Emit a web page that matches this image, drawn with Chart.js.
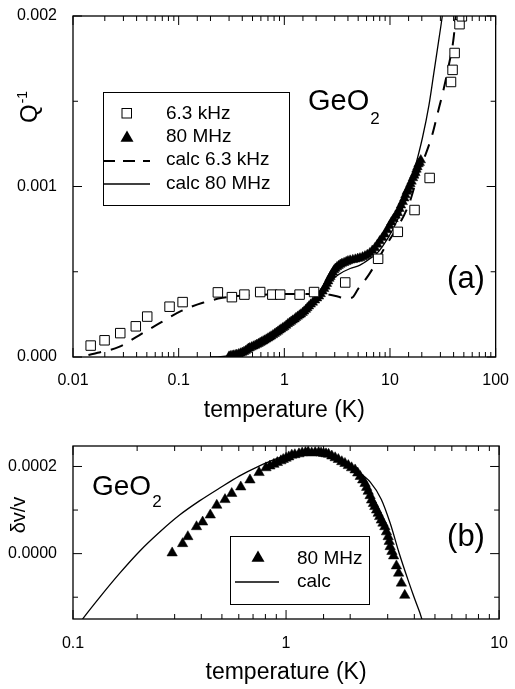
<!DOCTYPE html>
<html>
<head>
<meta charset="utf-8">
<title>GeO2 - Q^-1 and dv/v vs temperature</title>
<script src="https://cdn.jsdelivr.net/npm/chart.js@4.4.1/dist/chart.umd.min.js"></script>
<style>
  html, body { margin: 0; padding: 0; background: #fff; }
  #wrap { position: relative; width: 515px; height: 689px; }
  canvas { position: absolute; left: 0; display: block; }
  #chartA { top: 0; }
  #chartB { top: 430px; }
</style>
</head>
<body>
<div id="wrap">
  <canvas id="chartA" width="515" height="430"></canvas>
  <canvas id="chartB" width="515" height="259"></canvas>
</div>
<script>
const FONT = "'Liberation Sans', Arial, sans-serif";

// (a) internal friction, 6.3 kHz squares
const tempKHz = [0.0147, 0.0199, 0.028, 0.0393, 0.0504, 0.082, 0.109, 0.235, 0.319, 0.419, 0.591, 0.77, 0.914,
  1.395, 1.912, 3.77, 7.72, 11.86, 17.08, 23.73, 37.8, 39.1, 40.9, 45.5, 47.9];
const qKHz = [0.000067, 0.000098, 0.00014, 0.00018, 0.000237, 0.000295, 0.000322, 0.000379, 0.000351, 0.000366,
  0.000381, 0.000366, 0.000366, 0.000366, 0.000381, 0.000437, 0.000576, 0.000734, 0.000862, 0.00105,
  0.001613, 0.001684, 0.001783, 0.001952, 0.001998];

// (a) 80 MHz triangles (dense band)
const tempMHz = [0.30, 0.31, 0.32, 0.33, 0.343, 0.355, 0.37, 0.385, 0.40, 0.415,
  0.43, 0.445, 0.457, 0.47, 0.49, 0.51, 0.53, 0.55, 0.57, 0.59,
  0.608, 0.63, 0.65, 0.675, 0.70, 0.725, 0.75, 0.78, 0.81, 0.84,
  0.87, 0.90, 0.93, 0.965, 1.0, 1.04, 1.078, 1.12, 1.16, 1.2,
  1.25, 1.29, 1.34, 1.39, 1.435, 1.49, 1.54, 1.6, 1.65, 1.71,
  1.778, 1.86, 1.95, 2.04, 2.129, 2.21, 2.3, 2.38, 2.453, 2.53,
  2.6, 2.67, 2.731, 2.8, 2.88, 2.96, 3.041, 3.15, 3.26, 3.38,
  3.512, 3.68, 3.85, 4.0, 4.196, 4.45, 4.7, 4.95, 5.201, 5.5,
  5.8, 6.1, 6.448, 6.8, 7.2, 7.6, 7.99, 8.45, 8.9, 9.4,
  9.9, 10.3, 10.8, 11.3, 11.86, 12.3, 12.7, 13.2, 13.67, 14.0,
  14.4, 14.8, 15.22, 15.6, 16.0, 16.5, 16.94, 17.4, 17.8, 18.2,
  18.62, 19.1, 19.56];
const qMHz = [0.000004, 0.000006, 0.000008, 0.00001, 0.000012, 0.000014, 0.000018, 0.000022, 0.000026, 0.000031,
  0.000036, 0.000043, 0.00005, 0.000053, 0.000058, 0.000063, 0.000068, 0.000073, 0.000078, 0.000083,
  0.000088, 0.000093, 0.000098, 0.000104, 0.00011, 0.000116, 0.000122, 0.000129, 0.000136, 0.000143,
  0.00015, 0.000157, 0.000163, 0.00017, 0.000176, 0.000185, 0.000194, 0.000201, 0.000208, 0.000215,
  0.000222, 0.00023, 0.000238, 0.000245, 0.000251, 0.00026, 0.000268, 0.000278, 0.000288, 0.000298,
  0.000309, 0.00032, 0.000333, 0.000345, 0.000356, 0.00037, 0.000385, 0.0004, 0.000414, 0.00043,
  0.000445, 0.00046, 0.000471, 0.000484, 0.000497, 0.00051, 0.000519, 0.000528, 0.000535, 0.000542,
  0.000548, 0.000553, 0.000558, 0.000563, 0.000567, 0.00057, 0.000573, 0.000577, 0.00058, 0.000586,
  0.000592, 0.0006, 0.00061, 0.000625, 0.00064, 0.00066, 0.00068, 0.0007, 0.00072, 0.000745,
  0.00077, 0.00079, 0.00081, 0.00083, 0.000845, 0.00087, 0.00089, 0.00091, 0.000931, 0.00095,
  0.00097, 0.00098, 0.000998, 0.001015, 0.00103, 0.00105, 0.001065, 0.00108, 0.0011, 0.001115,
  0.001132, 0.00114, 0.001155];

// (a) calculated curves
const tempCalcKHz = [0.014, 0.0171, 0.02725, 0.04187, 0.068, 0.106, 0.169, 0.26, 0.4, 0.7, 1.0, 1.5, 2.0, 2.7,
  3.2, 3.7, 4.35, 5.0, 6.27, 8.6, 15.22, 18.86, 21.78, 25.16, 28.0, 32.26, 35.9, 40.0, 42.0];
const qCalcKHz = [0.000012, 0.000025, 0.000059, 0.000126, 0.000203, 0.00027, 0.000318, 0.000347, 0.00036,
  0.000367, 0.00037, 0.00037, 0.000368, 0.000365, 0.000355, 0.000345, 0.000348, 0.0004, 0.00048, 0.000625,
  0.000902, 0.001094, 0.00119, 0.001305, 0.00142, 0.001573, 0.001707, 0.00187, 0.00201];
const tempCalcMHz = [0.2, 0.25, 0.3, 0.35, 0.45, 0.6, 0.8, 1.08, 1.43, 1.78, 2.13, 2.45, 2.73, 3.39, 4.2, 5.2,
  6.45, 7.44, 8.6, 10.65, 13.67, 16.94, 20.29, 23.38, 26.03, 28.97, 31.17, 33.0];
const qCalcMHz = [0, 0.000002, 0.000008, 0.00002, 0.000048, 0.000085, 0.000133, 0.00019, 0.00025, 0.000305,
  0.00035, 0.0004, 0.000443, 0.00049, 0.000519, 0.000539, 0.000576, 0.000605, 0.000653, 0.000749, 0.000902,
  0.001094, 0.001286, 0.001477, 0.001668, 0.00186, 0.001994, 0.00212];

// (b) sound velocity, 80 MHz triangles
const tempDv = [0.292, 0.327, 0.346, 0.38, 0.406, 0.441, 0.473, 0.517, 0.556, 0.613,
  0.677, 0.747, 0.805, 0.84, 0.877, 0.91, 0.946, 0.97, 1.0, 1.03,
  1.064, 1.1, 1.15, 1.19, 1.233, 1.27, 1.32, 1.37, 1.422, 1.46,
  1.5, 1.54, 1.583, 1.64, 1.7, 1.76, 1.826, 1.89, 1.96, 2.03,
  2.109, 2.17, 2.23, 2.29, 2.348, 2.39, 2.43, 2.48, 2.52, 2.57,
  2.61, 2.66, 2.707, 2.75, 2.8, 2.85, 2.909, 2.96, 3.015, 3.05,
  3.08, 3.14, 3.198, 3.296, 3.375, 3.478, 3.607];
const dv = [0.0000016, 0.0000229, 0.0000389, 0.0000618, 0.0000725, 0.0000886, 0.000111, 0.000124, 0.000138, 0.000153,
  0.000169, 0.000186, 0.000197, 0.000201, 0.000205, 0.000209, 0.000213, 0.000216, 0.000219, 0.000222,
  0.000226, 0.000227, 0.000229, 0.000231, 0.000232, 0.000233, 0.000231, 0.000232, 0.000232, 0.000231,
  0.00023, 0.000229, 0.000228, 0.000224, 0.00022, 0.000216, 0.000211, 0.000207, 0.000202, 0.000197,
  0.000192, 0.000185, 0.000177, 0.000169, 0.000161, 0.000152, 0.000143, 0.000133, 0.000123, 0.000115,
  0.000108, 0.0001, 0.0000924, 0.000085, 0.000077, 0.00007, 0.0000618, 0.00005, 0.0000389, 0.000028,
  0.000016, 0.000005, -0.0000053, -0.0000281, -0.0000449, -0.0000677, -0.0000957];

// (b) calculated curve
const tempDvCalc = [0.1, 0.1113, 0.134, 0.1662, 0.206, 0.2553, 0.3164, 0.3923, 0.4861, 0.6026, 0.7467, 0.8933,
  1.031, 1.372, 1.64, 2.185, 2.485, 2.797, 3.08, 3.393, 3.736, 4.03, 4.344, 4.45];
const dvCalc = [-0.00018, -0.000149, -0.0000991, -0.0000442, 0.0000062, 0.0000497, 0.0000886, 0.000121, 0.00015,
  0.000178, 0.000201, 0.000217, 0.000226, 0.000228, 0.000221, 0.000187, 0.000164, 0.000125, 0.0000703,
  0.0000016, -0.0000602, -0.000106, -0.000151, -0.000175];

// labelled ticks
const xLabelsA = [0.01, 0.1, 1, 10, 100];
const yLabelsA = [0, 0.001, 0.002];
const xLabelsB = [0.1, 1, 10];
const yLabelsB = [0, 0.0002];

const zip = (xs, ys) => xs.map((x, i) => ({ x: x, y: ys[i] }));
const inList = (list, v) => list.some(m => Math.abs(v - m) <= Math.abs(m) * 1e-6 + 1e-12);

Chart.defaults.font.family = FONT;
Chart.defaults.color = '#000';

// box round the plot with inward ticks on all four sides
function frame(majorX, majorY) {
  return {
    id: 'frame',
    afterDatasetsDraw(chart) {
      const { ctx, chartArea: a } = chart;
      const x = chart.scales.x, y = chart.scales.y;
      ctx.save();
      ctx.strokeStyle = '#000';
      ctx.lineWidth = 1;
      ctx.beginPath();
      x.ticks.forEach(t => {
        const px = x.getPixelForValue(t.value);
        const len = inList(majorX, t.value) ? 9 : 5;
        ctx.moveTo(px, a.bottom); ctx.lineTo(px, a.bottom - len);
        ctx.moveTo(px, a.top); ctx.lineTo(px, a.top + len);
      });
      y.ticks.forEach(t => {
        const py = y.getPixelForValue(t.value);
        const len = inList(majorY, t.value) ? 9 : 5;
        ctx.moveTo(a.left, py); ctx.lineTo(a.left + len, py);
        ctx.moveTo(a.right, py); ctx.lineTo(a.right - len, py);
      });
      ctx.stroke();
      ctx.lineWidth = 1.3;
      ctx.strokeRect(a.left, a.top, a.right - a.left, a.bottom - a.top);
      ctx.restore();
    }
  };
}

function triangle(ctx, cx, cy, r) {
  ctx.beginPath();
  ctx.moveTo(cx, cy - r);
  ctx.lineTo(cx + 0.866 * r, cy + 0.5 * r);
  ctx.lineTo(cx - 0.866 * r, cy + 0.5 * r);
  ctx.closePath();
  ctx.fill();
}

function formula(ctx, text, sub, x, y, size, subSize, drop) {
  ctx.font = size + 'px ' + FONT;
  ctx.fillText(text, x, y);
  const w = ctx.measureText(text).width;
  ctx.font = subSize + 'px ' + FONT;
  ctx.fillText(sub, x + w + 1, y + drop);
}

const notesA = {
  id: 'notesA',
  afterDraw(chart) {
    const ctx = chart.ctx;
    ctx.save();
    ctx.fillStyle = '#000';
    ctx.strokeStyle = '#000';
    ctx.textAlign = 'left';
    ctx.textBaseline = 'alphabetic';

    // y title Q^-1
    ctx.save();
    ctx.translate(37, 123);
    ctx.rotate(-Math.PI / 2);
    formula(ctx, 'Q', '-1', 0, 0, 24, 14, -10);
    ctx.restore();

    formula(ctx, 'GeO', '2', 308, 110, 29, 17, 14);

    ctx.font = '31px ' + FONT;
    ctx.textAlign = 'center';
    ctx.textBaseline = 'middle';
    ctx.fillText('(a)', 466, 279);

    // legend
    ctx.lineWidth = 1;
    ctx.strokeRect(103.5, 92.5, 186, 113);
    ctx.strokeRect(122, 108.5, 9.5, 9.5);
    triangle(ctx, 127, 138, 7.5);
    ctx.lineWidth = 2;
    ctx.setLineDash([12, 8]);
    ctx.beginPath(); ctx.moveTo(103, 161); ctx.lineTo(150, 161); ctx.stroke();
    ctx.setLineDash([]);
    ctx.lineWidth = 1.3;
    ctx.beginPath(); ctx.moveTo(103, 184); ctx.lineTo(150, 184); ctx.stroke();
    ctx.font = '19px ' + FONT;
    ctx.textAlign = 'left';
    ctx.fillText('6.3 kHz', 166, 114);
    ctx.fillText('80 MHz', 166, 137);
    ctx.fillText('calc 6.3 kHz', 166, 160);
    ctx.fillText('calc 80 MHz', 166, 184);
    ctx.restore();
  }
};

const notesB = {
  id: 'notesB',
  afterDraw(chart) {
    const ctx = chart.ctx;
    ctx.save();
    ctx.fillStyle = '#000';
    ctx.strokeStyle = '#000';

    ctx.save();
    ctx.translate(19, 85);
    ctx.rotate(-Math.PI / 2);
    ctx.font = '20px ' + FONT;
    ctx.textAlign = 'center';
    ctx.textBaseline = 'middle';
    ctx.fillText('\u03b4v/v', 0, 0);
    ctx.restore();

    ctx.textAlign = 'left';
    ctx.textBaseline = 'alphabetic';
    formula(ctx, 'GeO', '2', 92, 65, 28, 17, 12);

    ctx.font = '31px ' + FONT;
    ctx.textAlign = 'center';
    ctx.textBaseline = 'middle';
    ctx.fillText('(b)', 466, 107);

    ctx.lineWidth = 1;
    ctx.strokeRect(230.5, 106.5, 139, 68);
    triangle(ctx, 258, 128, 7.5);
    ctx.lineWidth = 1.3;
    ctx.beginPath(); ctx.moveTo(235, 152); ctx.lineTo(279, 152); ctx.stroke();
    ctx.font = '19px ' + FONT;
    ctx.textAlign = 'left';
    ctx.fillText('80 MHz', 297, 129);
    ctx.fillText('calc', 297, 152);
    ctx.restore();
  }
};

function axes(opts) {
  return {
    x: {
      type: 'logarithmic',
      min: opts.xMin,
      max: opts.xMax,
      grid: { display: false },
      border: { display: false },
      ticks: {
        autoSkip: false,
        maxRotation: 0,
        padding: opts.xPad,
        font: { size: 16 },
        callback: v => inList(opts.xLabels, v) ? String(Number(v.toPrecision(6))) : ''
      },
      title: {
        display: true,
        text: 'temperature (K)',
        font: { size: 23 },
        padding: { top: 0, bottom: opts.titlePad }
      },
      afterFit: s => { s.height = opts.xHeight; }
    },
    y: {
      min: opts.yMin,
      max: opts.yMax,
      grid: { display: false },
      border: { display: false },
      ticks: {
        stepSize: opts.yStep,
        includeBounds: false,
        autoSkip: false,
        padding: 8,
        font: { size: 16, lineHeight: 1 },
        callback: v => inList(opts.yLabels, v) ? (Math.abs(v) < 1e-12 ? 0 : v).toFixed(opts.yDigits) : ''
      },
      afterFit: s => { s.width = opts.yWidth; }
    }
  };
}

const base = {
  responsive: false,
  animation: false,
  events: [],
  plugins: { legend: { display: false }, tooltip: { enabled: false } }
};

new Chart(document.getElementById('chartA'), {
  type: 'scatter',
  data: {
    datasets: [
      {
        label: '6.3 kHz', data: zip(tempKHz, qKHz), order: 0, clip: 0,
        pointStyle: 'rect', pointRadius: 6.7,
        pointBackgroundColor: '#fff', pointBorderColor: '#000', pointBorderWidth: 1
      },
      {
        label: '80 MHz', data: zip(tempMHz, qMHz), order: 1,
        pointStyle: 'triangle', pointRadius: 5.5,
        pointBackgroundColor: '#000', pointBorderColor: '#000', pointBorderWidth: 0.5
      },
      {
        label: 'calc 6.3 kHz', data: zip(tempCalcKHz, qCalcKHz), order: 2, clip: 0,
        showLine: true, pointRadius: 0, borderColor: '#000', borderWidth: 2,
        borderDash: [13, 10], cubicInterpolationMode: 'monotone'
      },
      {
        label: 'calc 80 MHz', data: zip(tempCalcMHz, qCalcMHz), order: 2, clip: 0,
        showLine: true, pointRadius: 0, borderColor: '#000', borderWidth: 1.3,
        cubicInterpolationMode: 'monotone'
      }
    ]
  },
  options: Object.assign({}, base, {
    layout: { padding: { top: 9, right: 14, left: 0, bottom: 0 } },
    scales: axes({
      xMin: 0.01, xMax: 100, xLabels: xLabelsA, xPad: 6, titlePad: 6, xHeight: 73,
      yMin: 0, yMax: 0.002, yStep: 0.0005, yLabels: yLabelsA, yDigits: 3, yWidth: 73
    })
  }),
  plugins: [frame(xLabelsA, yLabelsA), notesA]
});

new Chart(document.getElementById('chartB'), {
  type: 'scatter',
  data: {
    datasets: [
      {
        label: '80 MHz', data: zip(tempDv, dv), order: 0,
        pointStyle: 'triangle', pointRadius: 6,
        pointBackgroundColor: '#000', pointBorderColor: '#000', pointBorderWidth: 0.5
      },
      {
        label: 'calc', data: zip(tempDvCalc, dvCalc), order: 1, clip: 0,
        showLine: true, pointRadius: 0, borderColor: '#000', borderWidth: 1.3,
        cubicInterpolationMode: 'monotone'
      }
    ]
  },
  options: Object.assign({}, base, {
    layout: { padding: { top: 16, right: 13, left: 0, bottom: 0 } },
    scales: axes({
      xMin: 0.1, xMax: 10, xLabels: xLabelsB, xPad: 7, titlePad: 3, xHeight: 70,
      yMin: -0.00015, yMax: 0.000247, yStep: 0.0001, yLabels: yLabelsB, yDigits: 4, yWidth: 73
    })
  }),
  plugins: [frame(xLabelsB, yLabelsB), notesB]
});
</script>
</body>
</html>
